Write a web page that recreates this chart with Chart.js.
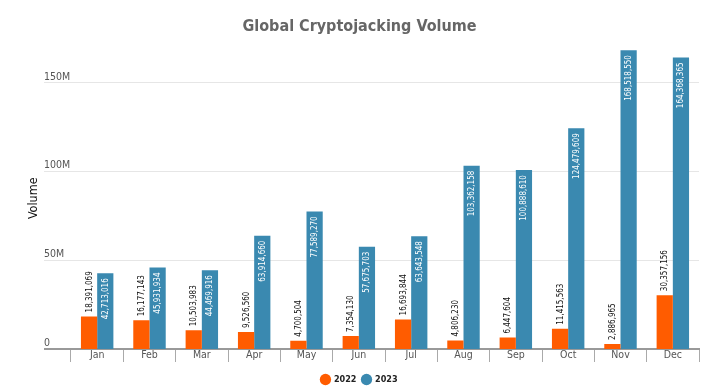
<!DOCTYPE html>
<html><head><meta charset="utf-8">
<script src="https://cdn.jsdelivr.net/npm/chart.js@4/dist/chart.umd.min.js"></script>
<style>html,body{margin:0;padding:0;background:#fff}#wrap{width:727px;height:391px}</style>
</head><body><div id="wrap"><canvas id="c"></canvas></div>
<script>
const months = ["Jan","Feb","Mar","Apr","May","Jun","Jul","Aug","Sep","Oct","Nov","Dec"];
const vol2022 = [18391069,16177143,10503983,9526560,4700504,7354130,16693844,4806230,6447604,11415563,2886965,30357156];
const vol2023 = [42713016,45931934,44469916,63914660,77589270,57675703,63643548,103362158,100888610,124479609,168518550,164368365];
const yTicks = [0,50000000,100000000,150000000];
const yTickLabels = ["0","50M","100M","150M"];

const FONT = "'DejaVu Sans Condensed','Roboto',sans-serif";
const nf = new Intl.NumberFormat('en-US');

const barLabels = {
  id:'barLabels',
  afterDatasetsDraw(chart){
    const ctx = chart.ctx;
    chart.data.datasets.forEach((ds,i)=>{
      const meta = chart.getDatasetMeta(i);
      meta.data.forEach((el,j)=>{
        ctx.save();
        ctx.translate(el.x, el.y);
        ctx.rotate(-Math.PI/2);
        ctx.scale(0.84,1);
        ctx.font = "9.5px " + FONT;
        ctx.textBaseline = 'middle';
        if(i===0){ctx.textAlign='left';ctx.fillStyle='#111';ctx.fillText(nf.format(ds.data[j]),4/0.84,0);}
        else{ctx.textAlign='right';ctx.fillStyle='#fff';ctx.fillText(nf.format(ds.data[j]),-5/0.84,0);}
        ctx.restore();
      });
    });
  }
};

new Chart(document.getElementById('c'),{
  type:'bar',
  data:{labels:months,datasets:[
    {label:'2022',data:vol2022,backgroundColor:'#FF5C00',borderWidth:0},
    {label:'2023',data:vol2023,backgroundColor:'#3A89B0',borderWidth:0}
  ]},
  options:{
    responsive:true,maintainAspectRatio:false,animation:false,
    devicePixelRatio:1,
    layout:{padding:{left:20,right:28,top:0,bottom:-3}},
    datasets:{bar:{categoryPercentage:0.62,barPercentage:1}},
    plugins:{
      title:{display:true,text:'Global Cryptojacking Volume',color:'#666',
        font:{family:FONT,size:16,weight:'bold'},padding:{top:17,bottom:11.3}},
      legend:{position:'bottom',labels:{usePointStyle:true,pointStyle:'circle',boxWidth:8,boxHeight:8,
        color:'#222',font:{family:FONT,size:9,weight:'bold'},padding:6}},
      tooltip:{enabled:false}
    },
    scales:{
      x:{
        afterFit(scale){scale.height=20;},
        grid:{display:true,drawOnChartArea:false,drawTicks:true,tickLength:13,color:'#aaa',offset:true},
        border:{display:true,color:'#999',width:2},
        ticks:{color:'#555',font:{family:FONT,size:10.5},padding:-13}
      },
      y:{
        min:0,max:170000000,
        afterBuildTicks(scale){scale.ticks = yTicks.map(v=>({value:v}));},
        afterFit(scale){scale.width=51;},
        title:{display:true,text:'Volume',color:'#111',font:{family:FONT,size:12.5},padding:{top:6,bottom:4}},
        grid:{color:'#e6e6e6',drawTicks:true,tickLength:27,
          lineWidth:(c)=> c.tick && c.tick.value===0 ? 0 : 1},
        border:{display:false},
        ticks:{mirror:true,padding:-27,labelOffset:-6,color:'#555',font:{family:FONT,size:10.5},
          callback:(v)=>{const k=yTicks.indexOf(v);return k>=0?yTickLabels[k]:'';}}
      }
    }
  },
  plugins:[barLabels,{
    id:'zeroLine',
    afterDraw(chart){
      const y = chart.scales.y.getPixelForValue(0);
      const ctx=chart.ctx;ctx.save();ctx.strokeStyle='#999';ctx.lineWidth=2;
      ctx.beginPath();ctx.moveTo(chart.chartArea.left-27,y);ctx.lineTo(chart.chartArea.left,y);ctx.stroke();ctx.restore();
    }
  }]
});
</script></body></html>
